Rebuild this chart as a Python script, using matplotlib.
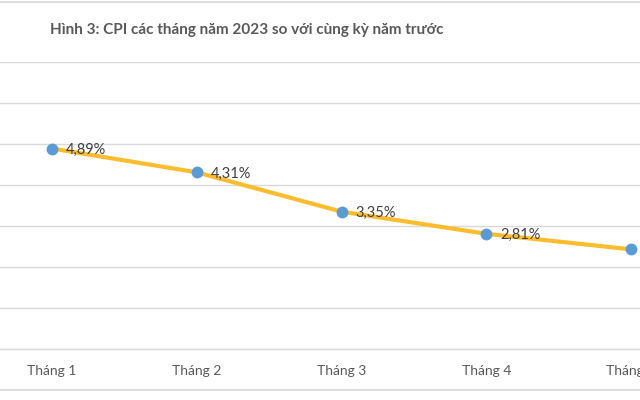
import matplotlib
matplotlib.use("Agg")
import matplotlib.pyplot as plt
from matplotlib.lines import Line2D

months = ["Tháng 1", "Tháng 2", "Tháng 3", "Tháng 4", "Tháng 5"]
cpi = [4.89, 4.31, 3.35, 2.81, 2.43]
labels = ["4,89%", "4,31%", "3,35%", "2,81%", None]
title = "Hình 3: CPI các tháng năm 2023 so với cùng kỳ năm trước"

plt.rcParams['font.family'] = ['Lato', 'DejaVu Sans']

fig = plt.figure(figsize=(6.4, 4.0), dpi=100)
# plot area runs past both sides of the picture (cropped screenshot)
ax = fig.add_axes([-20.5 / 640, 51 / 400, 724 / 640, 287 / 400])

x = list(range(len(months)))
ax.set_xlim(-0.5, len(months) - 0.5)
ax.set_ylim(0, 7)
ax.set_yticks(range(0, 8))
ax.yaxis.grid(True, color='#d9d9d9', linewidth=1.0)
ax.axhline(0, color='#d9d9d9', linewidth=1.0, clip_on=False, zorder=1)
ax.set_axisbelow(True)
for s in ax.spines.values():
    s.set_visible(False)
ax.tick_params(axis='y', left=False, labelleft=False)
ax.tick_params(axis='x', bottom=False, pad=8, labelsize=10, labelcolor='#595959')
ax.set_xticks(x)
ax.set_xticklabels(months)

ax.plot(x, cpi, color='#fbbd2e', linewidth=3.0, solid_capstyle='round', zorder=2,
        clip_on=False)
ax.plot(x, cpi, 'o', color='#5b9bd5', markersize=7.5, zorder=3, clip_on=False)

for xi, yi, lab in zip(x, cpi, labels):
    if lab:
        ax.annotate(lab, (xi, yi), xytext=(10, -1), textcoords='offset points',
                    ha='left', va='center', fontsize=10.5, color='#404040')

fig.text(50 / 640, 1 - 30 / 400, title, ha='left', va='center', fontsize=11,
         fontweight='bold', color='#595959')

# borders of the surrounding table
fig.add_artist(Line2D([0, 1], [1 - 2 / 400, 1 - 2 / 400], color='#d9d9d9', linewidth=1.2))
fig.add_artist(Line2D([0, 1], [1 - 390 / 400, 1 - 390 / 400], color='#d9d9d9', linewidth=1.2))

fig.savefig("out.png", dpi=100)
